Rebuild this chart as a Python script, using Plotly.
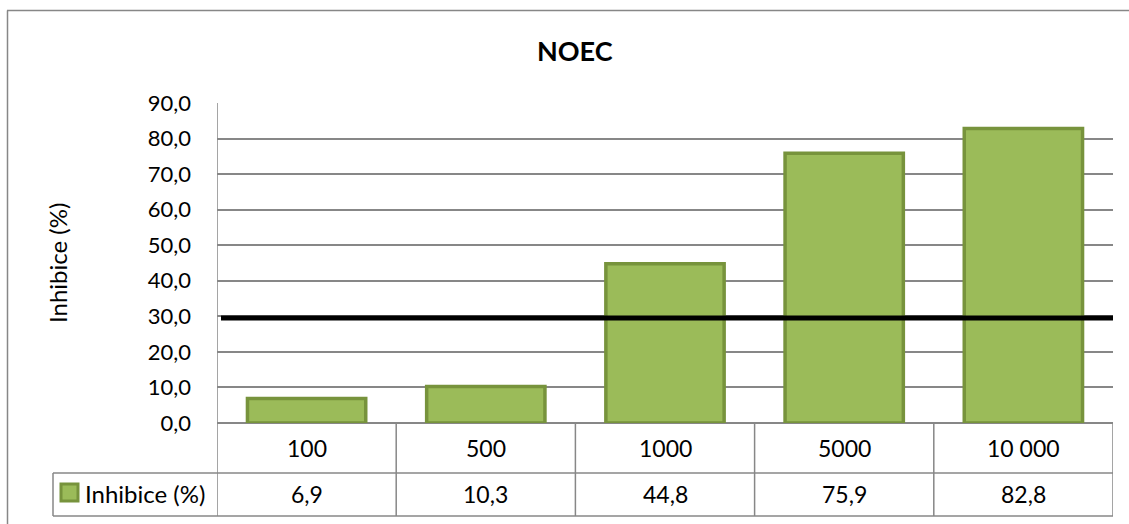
import plotly.graph_objects as go

# Concentrations (x categories) and measured inhibition
categories = ["100", "500", "1000", "5000", "10 000"]
inhibition = [6.9, 10.3, 44.8, 75.9, 82.8]
value_labels = ["6,9", "10,3", "44,8", "75,9", "82,8"]
series_name = "Inhibice (%)"
noec_limit = 29.5
y_ticks = [0, 10, 20, 30, 40, 50, 60, 70, 80, 90]

FONT = "Lato"
GRID = "#878787"
FILL = "#9BBB59"
EDGE = "#77933C"

W, H = 1129, 524
L, R, T, B = 217, 16, 103, 101
plot_h = H - T - B
plot_w = W - L - R


def py(px):
    """Convert a pixel row of the figure to paper y."""
    return (H - B - px) / plot_h


def px_(xpix):
    """Convert a pixel column of the figure to paper x."""
    return (xpix - L) / plot_w


fig = go.Figure()
fig.add_trace(go.Bar(
    x=categories, y=inhibition, name=series_name,
    marker=dict(color=FILL, line=dict(color=EDGE, width=3.5)),
    width=0.66, showlegend=False, hoverinfo="x+y",
))

row1_bottom = py(473)
row2_bottom = py(516)
n = len(categories)

shapes = []
# data table grid
for i in range(n + 1):
    shapes.append(dict(type="line", xref="x", yref="paper",
                       x0=i - 0.5, x1=i - 0.5,
                       y0=0 if i else 1, y1=row2_bottom,
                       line=dict(color=GRID, width=1.5)))
shapes.append(dict(type="line", xref="paper", yref="paper",
                   x0=px_(53), x1=1, y0=row1_bottom, y1=row1_bottom,
                   line=dict(color=GRID, width=1.5)))
shapes.append(dict(type="line", xref="paper", yref="paper",
                   x0=px_(53), x1=1, y0=row2_bottom, y1=row2_bottom,
                   line=dict(color=GRID, width=1.5)))
shapes.append(dict(type="line", xref="paper", yref="paper",
                   x0=px_(53), x1=px_(53), y0=row1_bottom, y1=row2_bottom,
                   line=dict(color=GRID, width=1.5)))
# legend key inside the table
shapes.append(dict(type="rect", xref="paper", yref="paper",
                   x0=px_(61), x1=px_(78), y0=py(484), y1=py(501),
                   fillcolor=FILL, line=dict(color=EDGE, width=3)))
# NOEC threshold line
shapes.append(dict(type="line", xref="paper", yref="y",
                   x0=px_(221), x1=1, y0=noec_limit, y1=noec_limit,
                   line=dict(color="black", width=5), layer="above"))
# chart frame (top and left edges)
shapes.append(dict(type="line", xref="paper", yref="paper",
                   x0=px_(7), x1=px_(1135), y0=py(10.5), y1=py(10.5),
                   line=dict(color=GRID, width=1.5)))
shapes.append(dict(type="line", xref="paper", yref="paper",
                   x0=px_(7.5), x1=px_(7.5), y0=py(10.5), y1=py(530),
                   line=dict(color=GRID, width=1.5)))

cell_font = dict(family=FONT, size=23, color="black")
label_font = dict(family=FONT, size=24, color="black")
annotations = []
for i, (cat, lab) in enumerate(zip(categories, value_labels)):
    annotations.append(dict(x=i, xref="x", y=py(448), yref="paper",
                            text=cat, showarrow=False,
                            xanchor="center", yanchor="middle", font=cell_font))
    annotations.append(dict(x=i, xref="x", y=py(494), yref="paper",
                            text=lab, showarrow=False,
                            xanchor="center", yanchor="middle", font=cell_font))
annotations.append(dict(x=px_(83), xref="paper", y=py(493), yref="paper",
                        text=series_name, showarrow=False,
                        xanchor="left", yanchor="middle", font=label_font))
annotations.append(dict(x=px_(575), xref="paper", y=py(51), yref="paper",
                        text="<b>NOEC</b>", showarrow=False,
                        xanchor="center", yanchor="middle",
                        font=dict(family=FONT, size=27, color="black")))
annotations.append(dict(x=px_(57), xref="paper", y=0.5, yref="paper",
                        text=series_name, showarrow=False, textangle=-90,
                        xanchor="center", yanchor="middle", font=label_font))

fig.update_layout(
    width=W, height=H,
    margin=dict(l=L, r=R, t=T, b=B, pad=0),
    paper_bgcolor="white", plot_bgcolor="white",
    separators=", ",
    font=dict(family=FONT, size=21, color="black"),
    shapes=shapes, annotations=annotations,
    bargap=0.34,
)
fig.update_xaxes(type="category", showticklabels=False, showgrid=False,
                 zeroline=False, showline=False, ticks="",
                 range=[-0.5, n - 0.5], fixedrange=True)
fig.update_yaxes(range=[0, 90], tickvals=y_ticks, tickformat=".1f",
                 showgrid=True, gridcolor=GRID, gridwidth=1.5,
                 zeroline=True, zerolinecolor=GRID, zerolinewidth=1.5,
                 showline=False, ticks="", ticklabelstandoff=25,
                 tickfont=dict(family=FONT, size=22, color="black"),
                 fixedrange=True)

fig.write_html("out.html")
